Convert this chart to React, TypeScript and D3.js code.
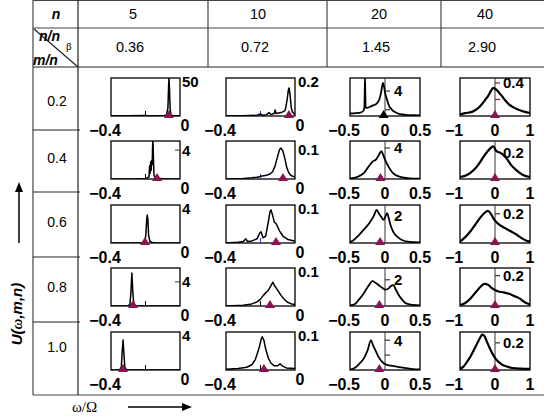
import React from 'react';
import * as d3 from 'd3';

type Pt = [number, number];

// ---------- table texts ----------
const nLabels = ['5', '10', '20', '40'];
const nRatioLabels = ['0.36', '0.72', '1.45', '2.90'];
const mnLabels = ['0.2', '0.4', '0.6', '0.8', '1.0'];

// ---------- axes per column ----------
const xDomains: [number, number][] = [[-0.4, 0], [-0.4, 0], [-0.5, 0.5], [-1, 1]];
const xTickValues: number[][] = [[-0.4, 0], [-0.4, 0], [-0.5, 0, 0.5], [-1, 0, 1]];
const xTickTexts: string[][] = [['−0.4', '0'], ['−0.4', '0'], ['−0.5', '0', '0.5'], ['−1', '0', '1']];

// ---------- y axis per plot [row][col] ----------
const yMaxes = [
  [56, 0.222, 6.1, 0.46],
  [5.26, 0.13, 4.9, 0.29],
  [4.4, 0.109, 2.8, 0.26],
  [6.3, 0.11, 2.9, 0.25],
  [4.4, 0.109, 5.1, 0.28],
];
const yTickValues = [
  [50, 0.2, 4, 0.4],
  [4, 0.1, 4, 0.2],
  [4, 0.1, 2, 0.2],
  [4, 0.1, 2, 0.2],
  [4, 0.1, 4, 0.2],
];
const yTickTexts = [
  ['50', '0.2', '4', '0.4'],
  ['4', '0.1', '4', '0.2'],
  ['4', '0.1', '2', '0.2'],
  ['4', '0.1', '2', '0.2'],
  ['4', '0.1', '4', '0.2'],
];
const yTickMarked = [
  [false, false, true, true],
  [true, false, true, false],
  [false, false, false, true],
  [true, false, true, true],
  [false, false, true, true],
];
const yExtraTicks: number[][][] = [
  [[], [], [1], [0.2]],
  [[], [], [], []],
  [[], [], [], []],
  [[], [], [], []],
  [[], [], [2], []],
];

// ---------- marker positions (triangles) ----------
const markerX = [
  [-0.064, -0.035, -0.02, 0],
  [-0.133, -0.07, -0.065, 0],
  [-0.203, -0.11, -0.07, 0],
  [-0.272, -0.145, -0.08, 0],
  [-0.33, -0.18, -0.08, 0],
];

// ---------- curves: n = 5 ----------
const u02_n5: Pt[] = [[-0.4, 0.2], [-0.3, 0.3], [-0.2, 0.6], [-0.19, 0.2], [-0.12, 0.3], [-0.09, 0.6], [-0.078, 1.5], [-0.07, 12], [-0.066, 45], [-0.064, 56], [-0.061, 40], [-0.057, 10], [-0.052, 1.5], [-0.04, 0.4], [-0.02, 0.2], [0, 0.2]];
const u04_n5: Pt[] = [[-0.4, 0], [-0.25, 0.02], [-0.2, 0.06], [-0.19, 0.15], [-0.18, 0.3], [-0.176, 1.8], [-0.173, 0.8], [-0.17, 2.4], [-0.167, 1.2], [-0.164, 2.6], [-0.161, 2.0], [-0.159, 4.5], [-0.157, 5.3], [-0.154, 3], [-0.151, 0.6], [-0.145, 0.1], [-0.1, 0.03], [0, 0]];
const u06_n5: Pt[] = [[-0.4, 0], [-0.22, 0.01], [-0.205, 0.11], [-0.198, 0.9], [-0.193, 2.75], [-0.19, 3.24], [-0.186, 2.65], [-0.182, 0.9], [-0.175, 0.22], [-0.16, 0.07], [-0.14, 0.02], [0, 0]];
const u08_n5: Pt[] = [[-0.4, 0], [-0.3, 0.02], [-0.29, 0.3], [-0.284, 2.5], [-0.279, 5.47], [-0.274, 2.5], [-0.268, 0.3], [-0.26, 0.05], [0, 0]];
const u10_n5: Pt[] = [[-0.4, 0], [-0.35, 0.02], [-0.34, 0.33], [-0.335, 2.2], [-0.33, 3.47], [-0.326, 2.2], [-0.32, 0.33], [-0.31, 0.03], [0, 0]];

// ---------- curves: n = 10 ----------
const u02_n10: Pt[] = [[-0.4, 0.001], [-0.3, 0.002], [-0.22, 0.004], [-0.2, 0.012], [-0.19, 0.004], [-0.165, 0.008], [-0.15, 0.02], [-0.14, 0.008], [-0.12, 0.015], [-0.115, 0.035], [-0.11, 0.015], [-0.08, 0.02], [-0.06, 0.03], [-0.055, 0.04], [-0.045, 0.1], [-0.038, 0.155], [-0.034, 0.164], [-0.028, 0.12], [-0.022, 0.05], [-0.015, 0.025], [-0.008, 0.015], [0, 0.012]];
const u04_n10: Pt[] = [[-0.4, 0], [-0.3, 0.002], [-0.25, 0.004], [-0.22, 0.006], [-0.19, 0.01], [-0.165, 0.013], [-0.145, 0.017], [-0.13, 0.025], [-0.116, 0.044], [-0.1, 0.079], [-0.09, 0.1], [-0.081, 0.106], [-0.07, 0.095], [-0.058, 0.068], [-0.048, 0.04], [-0.04, 0.027], [-0.03, 0.016], [-0.017, 0.01], [0, 0.007]];
const u06_n10: Pt[] = [[-0.4, 0], [-0.33, 0.002], [-0.3, 0.004], [-0.285, 0.012], [-0.275, 0.004], [-0.25, 0.006], [-0.22, 0.012], [-0.205, 0.028], [-0.197, 0.032], [-0.185, 0.015], [-0.17, 0.02], [-0.155, 0.06], [-0.145, 0.09], [-0.139, 0.095], [-0.13, 0.08], [-0.12, 0.06], [-0.11, 0.056], [-0.09, 0.035], [-0.07, 0.02], [-0.04, 0.01], [0, 0.005]];
const u08_n10: Pt[] = [[-0.4, 0], [-0.3, 0.002], [-0.25, 0.006], [-0.22, 0.012], [-0.2, 0.02], [-0.185, 0.03], [-0.17, 0.038], [-0.155, 0.045], [-0.14, 0.058], [-0.128, 0.069], [-0.12, 0.06], [-0.1, 0.045], [-0.08, 0.03], [-0.06, 0.018], [-0.04, 0.01], [-0.02, 0.006], [0, 0.004]];
const u10_n10: Pt[] = [[-0.4, 0.002], [-0.33, 0.004], [-0.28, 0.008], [-0.25, 0.015], [-0.23, 0.03], [-0.21, 0.06], [-0.195, 0.09], [-0.19, 0.095], [-0.18, 0.085], [-0.17, 0.06], [-0.155, 0.035], [-0.14, 0.02], [-0.12, 0.012], [-0.1, 0.012], [-0.087, 0.018], [-0.075, 0.012], [-0.05, 0.006], [0, 0.004]];

// ---------- curves: n = 20 ----------
const u02_n20: Pt[] = [[-0.5, 0.4], [-0.42, 0.45], [-0.35, 0.55], [-0.31, 0.8], [-0.295, 1.4], [-0.289, 4], [-0.286, 6.1], [-0.282, 4], [-0.276, 1.4], [-0.26, 1.3], [-0.22, 1.45], [-0.17, 1.7], [-0.12, 2.0], [-0.08, 2.7], [-0.055, 3.8], [-0.03, 5.3], [-0.015, 4.8], [0, 3.8], [0.03, 2.6], [0.06, 1.6], [0.1, 1.0], [0.15, 0.6], [0.21, 0.3], [0.3, 0.18], [0.4, 0.12], [0.5, 0.08]];
const u04_n20: Pt[] = [[-0.5, 0.08], [-0.4, 0.25], [-0.3, 0.8], [-0.25, 1.4], [-0.2, 2.0], [-0.17, 2.3], [-0.13, 2.5], [-0.1, 2.9], [-0.07, 3.4], [-0.05, 3.6], [-0.03, 3.2], [0, 2.5], [0.05, 1.6], [0.1, 0.9], [0.15, 0.5], [0.25, 0.2], [0.35, 0.08], [0.5, 0.05]];
const u06_n20: Pt[] = [[-0.5, 0.05], [-0.45, 0.2], [-0.38, 0.55], [-0.3, 1.0], [-0.22, 1.5], [-0.16, 2.0], [-0.12, 2.43], [-0.09, 2.2], [-0.05, 1.9], [-0.02, 1.7], [0.01, 2.0], [0.03, 2.2], [0.05, 1.9], [0.08, 1.3], [0.12, 0.8], [0.18, 0.45], [0.25, 0.2], [0.35, 0.08], [0.5, 0.04]];
const u08_n20: Pt[] = [[-0.5, 0.05], [-0.43, 0.15], [-0.37, 0.5], [-0.3, 1.0], [-0.24, 1.5], [-0.18, 1.9], [-0.13, 1.75], [-0.08, 1.55], [-0.03, 1.35], [0, 1.25], [0.04, 1.3], [0.08, 1.5], [0.12, 1.6], [0.15, 1.3], [0.2, 0.8], [0.25, 0.45], [0.3, 0.2], [0.4, 0.08], [0.5, 0.04]];
const u10_n20: Pt[] = [[-0.5, 0.05], [-0.43, 0.3], [-0.37, 0.8], [-0.3, 1.6], [-0.25, 2.6], [-0.2, 4.0], [-0.17, 3.3], [-0.13, 2.5], [-0.1, 1.9], [-0.06, 1.3], [-0.02, 0.9], [0.03, 0.7], [0.1, 0.55], [0.2, 0.4], [0.3, 0.25], [0.4, 0.12], [0.5, 0.08]];

// ---------- curves: n = 40 ----------
const u02_n40: Pt[] = [[-1, 0.02], [-0.85, 0.035], [-0.66, 0.05], [-0.5, 0.09], [-0.4, 0.13], [-0.29, 0.19], [-0.2, 0.24], [-0.12, 0.3], [-0.05, 0.34], [0, 0.33], [0.06, 0.31], [0.12, 0.28], [0.2, 0.24], [0.29, 0.19], [0.4, 0.14], [0.5, 0.11], [0.69, 0.073], [0.85, 0.05], [1, 0.036]];
const u04_n40: Pt[] = [[-1, 0.015], [-0.8, 0.03], [-0.6, 0.07], [-0.45, 0.12], [-0.3, 0.18], [-0.15, 0.23], [-0.05, 0.25], [0, 0.23], [0.05, 0.21], [0.15, 0.2], [0.25, 0.18], [0.35, 0.15], [0.45, 0.11], [0.6, 0.07], [0.8, 0.03], [1, 0.015]];
const u06_n40: Pt[] = [[-1, 0.01], [-0.85, 0.04], [-0.7, 0.08], [-0.55, 0.13], [-0.4, 0.18], [-0.28, 0.21], [-0.2, 0.22], [-0.12, 0.2], [-0.05, 0.17], [0.05, 0.14], [0.15, 0.12], [0.3, 0.1], [0.45, 0.08], [0.6, 0.06], [0.75, 0.035], [0.9, 0.015], [1, 0.01]];
const u08_n40: Pt[] = [[-1, 0.005], [-0.85, 0.02], [-0.7, 0.05], [-0.55, 0.09], [-0.4, 0.13], [-0.3, 0.145], [-0.2, 0.14], [-0.1, 0.12], [0, 0.105], [0.1, 0.095], [0.25, 0.09], [0.4, 0.08], [0.55, 0.065], [0.7, 0.05], [0.85, 0.025], [1, 0.01]];
const u10_n40: Pt[] = [[-1, 0.01], [-0.9, 0.025], [-0.8, 0.06], [-0.7, 0.1], [-0.6, 0.15], [-0.5, 0.2], [-0.42, 0.24], [-0.36, 0.26], [-0.3, 0.25], [-0.25, 0.22], [-0.15, 0.16], [-0.05, 0.11], [0, 0.09], [0.1, 0.06], [0.2, 0.04], [0.35, 0.025], [0.5, 0.015], [0.75, 0.01], [1, 0.008]];

const curves: Pt[][][] = [
  [u02_n5, u02_n10, u02_n20, u02_n40],
  [u04_n5, u04_n10, u04_n20, u04_n40],
  [u06_n5, u06_n10, u06_n20, u06_n40],
  [u08_n5, u08_n10, u08_n20, u08_n40],
  [u10_n5, u10_n10, u10_n20, u10_n40],
];

// ---------- layout ----------
const boxLeft = [111, 226, 350, 460];
const boxWidth = [69, 69, 70, 70];
const boxTop = [78, 141, 205, 268, 332];
const boxH = 38;
const strokeW = [1.5, 1.5, 1.8, 2.2];

const MAROON = '#8a1450';
const SANS = "'Liberation Sans', Arial, Helvetica, sans-serif";
const SERIF = "'Liberation Serif', 'Times New Roman', serif";

function SmallPlot({ r, c }: { r: number; c: number }) {
  const left = boxLeft[c];
  const w = boxWidth[c];
  const top = boxTop[r];
  const bottom = top + boxH;
  const x = d3.scaleLinear().domain(xDomains[c]).range([left, left + w]);
  const y = d3.scaleLinear().domain([0, yMaxes[r][c]]).range([bottom, top]);
  const line = d3
    .line<Pt>()
    .x((d) => x(d[0]))
    .y((d) => y(d[1]))
    .curve(c < 2 ? d3.curveLinear : d3.curveMonotoneX);
  const clipId = `clip-${r}-${c}`;
  const zeroX = x(0);
  const tv = yTickValues[r][c];
  const ty = y(tv);
  const marked = yTickMarked[r][c];
  const tickColor = r === 0 && c === 3 ? MAROON : '#333';
  let labelX: number;
  if (c === 0) labelX = left + w + 2;
  else if (c === 1) labelX = left + w + 3;
  else if (c === 2) labelX = zeroX + 9;
  else labelX = zeroX + 8;
  const mx = x(markerX[r][c]);
  const triColor = r === 0 && c === 2 ? '#000' : MAROON;
  const triPath = `M${mx - 5},${bottom + 2}L${mx + 5},${bottom + 2}L${mx},${bottom - 6}Z`;

  return (
    <g>
      <defs>
        <clipPath id={clipId}>
          <rect x={left} y={top} width={w} height={boxH} />
        </clipPath>
      </defs>
      <rect x={left} y={top} width={w} height={boxH} fill="#fff" stroke="#000" strokeWidth={1.3} />
      {c >= 2 && <line x1={zeroX} x2={zeroX} y1={top} y2={bottom} stroke="#333" strokeWidth={1} />}
      {c < 2 && (
        <line
          x1={x(-0.2)}
          x2={x(-0.2)}
          y1={bottom}
          y2={bottom - 5}
          stroke={c === 1 && r < 3 ? '#3344aa' : '#000'}
          strokeWidth={1}
        />
      )}
      <path d={line(curves[r][c]) || ''} fill="none" stroke="#000" strokeWidth={strokeW[c]} strokeLinejoin="round" clipPath={`url(#${clipId})`} />
      {marked && c === 0 && <line x1={left + w - 5} x2={left + w} y1={ty} y2={ty} stroke="#333" strokeWidth={1} />}
      {marked && c >= 2 && <line x1={zeroX} x2={zeroX + 5} y1={ty} y2={ty} stroke={tickColor} strokeWidth={1.2} />}
      {c >= 2 &&
        yExtraTicks[r][c].map((v, i) => (
          <line key={i} x1={zeroX} x2={zeroX + 5} y1={y(v)} y2={y(v)} stroke={tickColor} strokeWidth={1.2} />
        ))}
      <text x={labelX} y={ty} dy="0.36em" fontFamily={SANS} fontWeight="bold" fontSize={15} fill="#000">
        {yTickTexts[r][c]}
      </text>
      <path d={triPath} fill={triColor} />
      {xTickValues[c].map((v, i) => {
        const n = xTickValues[c].length;
        let dx = 0;
        let by = bottom + 20;
        if (i === 0) dx = -6;
        else if (i === n - 1 && c < 2) {
          dx = 5;
          by = bottom + 15;
        }
        return (
          <text
            key={i}
            x={x(v) + dx}
            y={by}
            textAnchor="middle"
            fontFamily={SANS}
            fontWeight="bold"
            fontSize={16}
            fill="#000"
          >
            {xTickTexts[c][i]}
          </text>
        );
      })}
    </g>
  );
}

export default function App() {
  const W = 544;
  const H = 419;
  const headerCenters = [133, 258, 379, 485];
  const rowSep = [130, 192, 257, 322];
  const rowLabelY = [101, 158, 222, 287, 347];
  const lineColor = '#444';

  return (
    <svg
      width={W}
      height={H}
      viewBox={`0 0 ${W} ${H}`}
      style={{ position: 'absolute', left: 0, top: 0, background: '#fff' }}
    >
      <rect x={0} y={0} width={W} height={H} fill="#fff" />
      {/* table frame */}
      <line x1={33} x2={544} y1={0.5} y2={0.5} stroke={lineColor} strokeWidth={1.2} />
      <line x1={33} x2={544} y1={28} y2={28} stroke={lineColor} strokeWidth={1.2} />
      <line x1={33} x2={544} y1={67} y2={67} stroke="#222" strokeWidth={1.2} />
      <line x1={33} x2={544} y1={395} y2={395} stroke={lineColor} strokeWidth={1.2} />
      <line x1={33} x2={33} y1={0} y2={395} stroke={lineColor} strokeWidth={1.2} />
      <line x1={78} x2={78} y1={0} y2={395} stroke="#222" strokeWidth={1.2} />
      {[208, 327, 441].map((xx) => (
        <line key={xx} x1={xx} x2={xx} y1={0} y2={67} stroke={lineColor} strokeWidth={1.2} />
      ))}
      {rowSep.map((yy) => (
        <line key={yy} x1={33} x2={80} y1={yy} y2={yy} stroke="#222" strokeWidth={1.2} />
      ))}
      {/* diagonal header cell */}
      <line x1={34} x2={78} y1={29} y2={67} stroke="#222" strokeWidth={1.2} />
      <text x={56} y={19} textAnchor="middle" fontFamily={SANS} fontWeight="bold" fontStyle="italic" fontSize={14}>
        n
      </text>
      <text x={39} y={41} fontFamily={SANS} fontWeight="bold" fontStyle="italic" fontSize={14}>
        n/n
      </text>
      <text x={66} y={50} fontFamily={SERIF} fontSize={11}>
        β
      </text>
      <text x={33} y={65} fontFamily={SANS} fontWeight="bold" fontStyle="italic" fontSize={14}>
        m/n
      </text>
      {nLabels.map((t, i) => (
        <text key={t} x={headerCenters[i]} y={19} textAnchor="middle" fontFamily={SANS} fontSize={14.5}>
          {t}
        </text>
      ))}
      {nRatioLabels.map((t, i) => (
        <text key={t} x={headerCenters[i] - 3} y={52} textAnchor="middle" fontFamily={SANS} fontSize={14.5}>
          {t}
        </text>
      ))}
      {mnLabels.map((t, i) => (
        <text key={t} x={57} y={rowLabelY[i]} dy="0.36em" textAnchor="middle" fontFamily={SANS} fontSize={14}>
          {t}
        </text>
      ))}
      {/* plots */}
      {curves.map((row, r) => row.map((_, c) => <SmallPlot key={`${r}-${c}`} r={r} c={c} />))}
      {/* y axis title with arrow */}
      <line x1={19} x2={19} y1={243} y2={190} stroke="#000" strokeWidth={1.5} />
      <path d="M15,192L23,192L19,182Z" fill="#000" />
      <text
        transform="translate(22,314) rotate(-90)"
        textAnchor="middle"
        fontFamily={SANS}
        fontWeight="bold"
        fontStyle="italic"
        fontSize={15}
      >
        U(<tspan fontFamily={SERIF}>ω</tspan>,m,n)
      </text>
      {/* x axis title with arrow */}
      <text x={72} y={412} fontFamily={SERIF} fontSize={15}>
        ω/Ω
      </text>
      <line x1={128} x2={184} y1={407} y2={407} stroke="#000" strokeWidth={1.5} />
      <path d="M182,403L182,411L192,407Z" fill="#000" />
    </svg>
  );
}
